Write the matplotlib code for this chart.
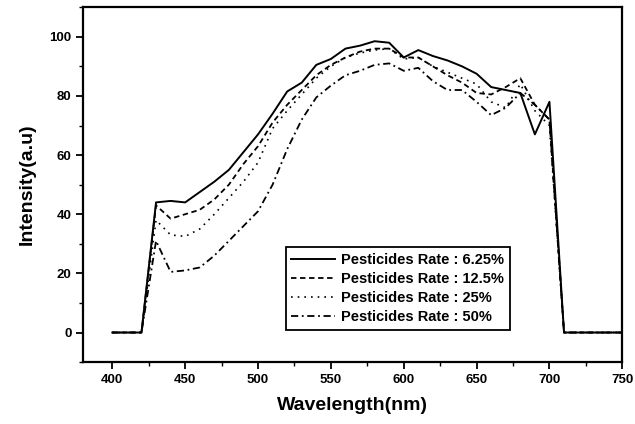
import numpy as np
import matplotlib
matplotlib.use('Agg')
import matplotlib.pyplot as plt
from matplotlib.ticker import MultipleLocator

# wavelength grid (nm), every 10 nm
wavelength = list(range(400, 760, 10))

rate_625 = [0, 0, 0, 44, 44.5, 44, 47.5, 51, 55, 61, 67, 74, 81.5, 84.5, 90.5, 92.5,
            96, 97, 98.5, 98, 93, 95.5, 93.5, 92, 90, 87.5, 83, 82, 81, 67, 78,
            0, 0, 0, 0, 0]
rate_125 = [0, 0, 0, 43, 38.5, 40, 41.5, 45, 50, 57, 63, 71, 77, 82, 87, 90.5,
            93, 95, 96, 96, 93, 93, 90, 87, 84.5, 81, 80.5, 83, 86, 77, 72,
            0, 0, 0, 0, 0]
rate_25 = [0, 0, 0, 38, 33, 32.5, 35, 40, 45.5, 51, 57.5, 69, 75, 80.5, 86, 90,
           93, 94.5, 95.5, 96, 92.5, 93, 90, 88, 86, 84, 78, 76, 84, 75, 70,
           0, 0, 0, 0, 0]
rate_50 = [0, 0, 0, 31, 20.5, 21, 22, 26, 31, 36, 41, 50, 62, 72, 79.5, 83.5,
           87, 88.5, 90.5, 91, 88.5, 89.5, 85, 82, 82, 78, 73.5, 76, 81, 77, 72,
           0, 0, 0, 0, 0]

labels = ['Pesticides Rate : 6.25%', 'Pesticides Rate : 12.5%',
          'Pesticides Rate : 25%', 'Pesticides Rate : 50%']

plt.rcParams['font.family'] = ['Liberation Sans', 'DejaVu Sans']
plt.rcParams['font.weight'] = 'bold'

fig = plt.figure(figsize=(6.35, 4.24), dpi=100)
ax = fig.add_axes([0.131, 0.146, 0.849, 0.837])

ax.plot(wavelength, rate_625, color='black', lw=1.4, ls='-', label=labels[0])
ax.plot(wavelength, rate_125, color='black', lw=1.3, ls=(0, (3, 2)), label=labels[1])
ax.plot(wavelength, rate_25, color='black', lw=1.2, ls=(0, (1, 3)), label=labels[2])
ax.plot(wavelength, rate_50, color='black', lw=1.3, ls=(0, (4, 2, 1, 2)), label=labels[3])

ax.set_xlim(380, 750)
ax.set_ylim(-10, 110)
ax.xaxis.set_major_locator(MultipleLocator(50))
ax.xaxis.set_minor_locator(MultipleLocator(25))
ax.yaxis.set_major_locator(MultipleLocator(20))
ax.yaxis.set_minor_locator(MultipleLocator(10))
ax.tick_params(which='major', direction='out', length=5, width=1.3, labelsize=9.5)
ax.tick_params(which='minor', direction='out', length=3, width=1.0)
ax.tick_params(top=False, right=False)
for lbl in ax.get_xticklabels() + ax.get_yticklabels():
    lbl.set_fontweight('bold')

for spine in ax.spines.values():
    spine.set_linewidth(1.6)

ax.set_xlabel('Wavelength(nm)', fontsize=14, fontweight='bold', labelpad=8)
ax.set_ylabel('Intensity(a.u)', fontsize=14, fontweight='bold', labelpad=10)

leg = ax.legend(loc='lower left', bbox_to_anchor=(0.362, 0.07), fancybox=False,
                edgecolor='black', framealpha=1, handlelength=3.0,
                prop={'weight': 'bold', 'size': 10.5}, labelspacing=0.35,
                borderpad=0.4, handletextpad=0.4)
leg.get_frame().set_linewidth(1.3)

fig.savefig('out.png', dpi=100)
